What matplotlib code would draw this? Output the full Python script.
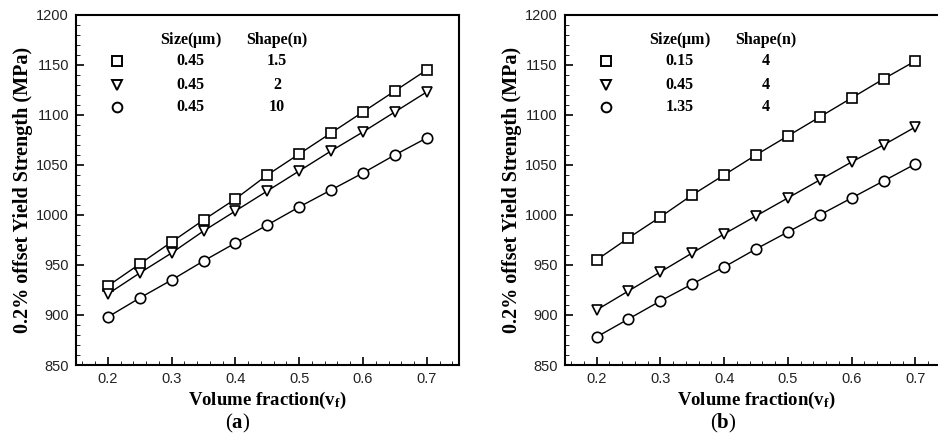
import matplotlib
matplotlib.use("Agg")
import matplotlib.pyplot as plt
from matplotlib.ticker import MultipleLocator

# ---- data ----
vf = [0.2, 0.25, 0.3, 0.35, 0.4, 0.45, 0.5, 0.55, 0.6, 0.65, 0.7]

# (a) size 0.45, shape 1.5 / 2 / 10
a_sq  = [929, 951, 973, 995, 1016, 1040, 1061, 1082, 1103, 1124, 1145]
a_tri = [921, 942, 962, 984, 1004, 1024, 1044, 1064, 1083, 1103, 1123]
a_cir = [898, 917, 935, 954, 972, 990, 1008, 1025, 1042, 1060, 1077]

# (b) shape 4, size 0.15 / 0.45 / 1.35
b_sq  = [955, 977, 998, 1020, 1040, 1060, 1079, 1098, 1117, 1136, 1154]
b_tri = [905, 924, 943, 962, 981, 999, 1017, 1035, 1053, 1070, 1088]
b_cir = [878, 896, 914, 931, 948, 966, 983, 1000, 1017, 1034, 1051]

a_size = ["0.45", "0.45", "0.45"]
a_shape = ["1.5", "2", "10"]
b_size = ["0.15", "0.45", "1.35"]
b_shape = ["4", "4", "4"]

markers = ["s", "v", "o"]

plt.rcParams['mathtext.fontset'] = 'custom'
plt.rcParams['mathtext.rm'] = 'Liberation Serif'
plt.rcParams['mathtext.bf'] = 'Liberation Serif:bold'

SERIF = 'Liberation Serif'
SANS = 'Liberation Sans'

fig = plt.figure(figsize=(9.38, 4.46), dpi=100)
ax_a = fig.add_axes([0.081, 0.1816, 0.408, 0.785])
ax_b = fig.add_axes([0.602, 0.1816, 0.408, 0.785])

def draw_panel(ax, series, sizes, shapes):
    for ys, m in zip(series, markers):
        ax.plot(vf, ys, '-', color='black', lw=1.0, marker=m, ms=7.5,
                mfc='white', mec='black', mew=1.2)
    ax.set_xlim(0.15, 0.75)
    ax.set_ylim(850, 1200)
    ax.xaxis.set_major_locator(MultipleLocator(0.1))
    ax.xaxis.set_minor_locator(MultipleLocator(0.02))
    ax.yaxis.set_major_locator(MultipleLocator(50))
    ax.yaxis.set_minor_locator(MultipleLocator(10))
    ax.tick_params(which='major', direction='in', length=6, width=1.2,
                   labelsize=10.5, pad=5, labelfontfamily=SANS,
                   labelcolor='#222222')
    ax.tick_params(which='minor', direction='in', length=3, width=0.6)
    for sp in ax.spines.values():
        sp.set_linewidth(1.5)

    ax.set_xlabel(r'Volume fraction($\mathbf{v_f}$)', fontfamily=SERIF,
                  fontweight='bold', fontsize=13.5, labelpad=3)
    ax.set_ylabel('0.2% offset Yield Strength (MPa)', fontfamily=SERIF,
                  fontweight='bold', fontsize=14.5, labelpad=2)

    # legend table
    tr = ax.transAxes
    ax.text(0.30, 0.929, r'Size($\mathbf{\mu}$m)', transform=tr, ha='center',
            va='center', fontfamily=SERIF, fontweight='bold', fontsize=11.5)
    ax.text(0.525, 0.929, 'Shape(n)', transform=tr, ha='center', va='center',
            fontfamily=SERIF, fontweight='bold', fontsize=11.5)
    rows = [0.869, 0.80, 0.737]
    for yy, m, s, n in zip(rows, markers, sizes, shapes):
        ax.plot([0.107], [yy], transform=tr, marker=m, ms=7, mfc='white',
                mec='black', mew=1.4, ls='none')
        ax.text(0.30, yy, s, transform=tr, ha='center', va='center',
                fontfamily=SERIF, fontweight='bold', fontsize=11.5)
        ax.text(0.525, yy, n, transform=tr, ha='center', va='center',
                fontfamily=SERIF, fontweight='bold', fontsize=11.5)

draw_panel(ax_a, [a_sq, a_tri, a_cir], a_size, a_shape)
draw_panel(ax_b, [b_sq, b_tri, b_cir], b_size, b_shape)

fig.text(238 / 938, 1 - 423 / 446, r'($\mathbf{a}$)', ha='center', va='center',
         fontfamily=SERIF, fontsize=15)
fig.text(723 / 938, 1 - 423 / 446, r'($\mathbf{b}$)', ha='center', va='center',
         fontfamily=SERIF, fontsize=15)

fig.savefig('out.png', dpi=100)
